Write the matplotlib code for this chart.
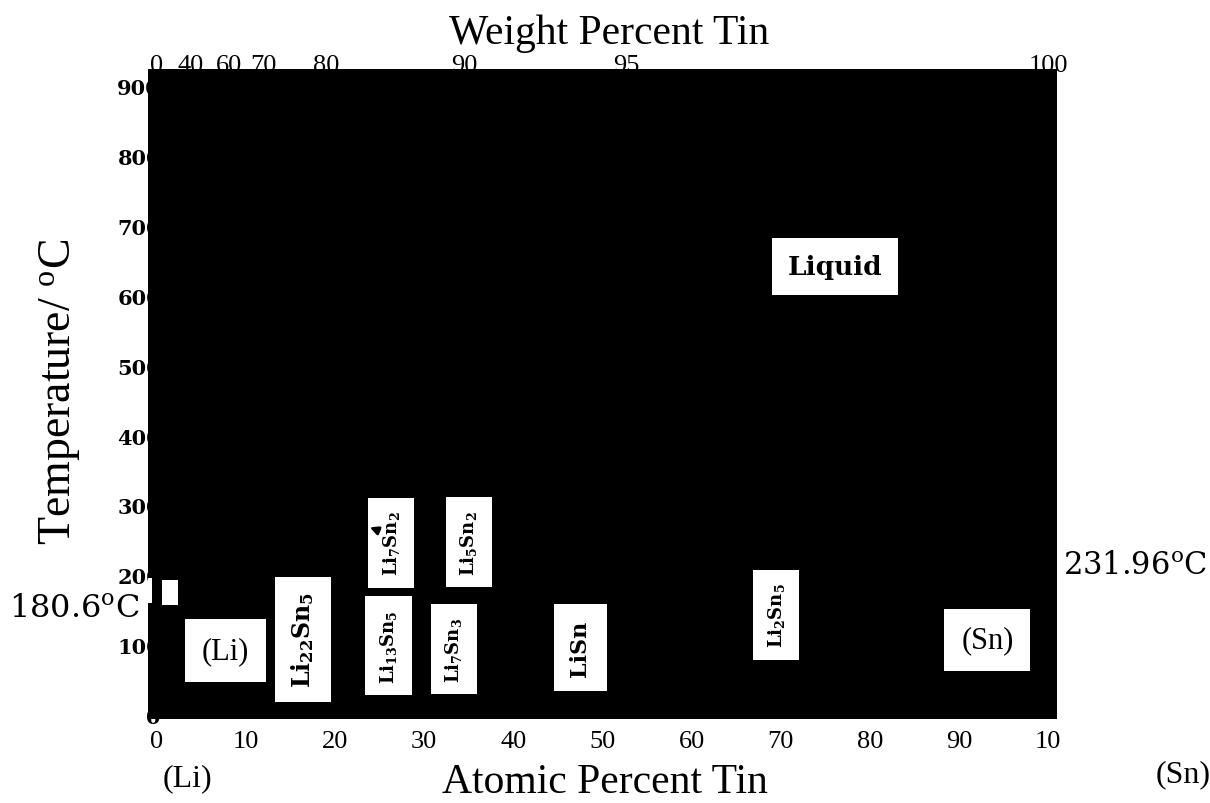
import numpy as np
import matplotlib
matplotlib.use("Agg")
import matplotlib.pyplot as plt
from matplotlib.patches import Rectangle

plt.rcParams["font.family"] = "Liberation Serif"
plt.rcParams["mathtext.default"] = "regular"

# temperature axis (deg C) and composition axes
temp_ticks = [0, 100, 200, 300, 400, 500, 600, 700, 800, 900]
at_ticks = [0, 10, 20, 30, 40, 50, 60, 70, 80, 90, 100]
at_labels = ["0", "10", "20", "30", "40", "50", "60", "70", "80", "90", "10"]
wt_ticks = [0, 40, 60, 70, 80, 90, 95, 100]

M_LI = 6.941
M_SN = 118.71

# phase field labels: text, at.% Sn, temperature, rotation, style
phases = [
    ("Liquid", 76.1, 642, 0, "big"),
    ("(Li)", 7.7, 92, 0, "paren"),
    ("Li$_{22}$Sn$_5$", 16.4, 108, 90, "big_v"),
    ("Li$_7$Sn$_2$", 26.3, 246, 90, "small_v"),
    ("Li$_{13}$Sn$_5$", 26.0, 99, 90, "small_v"),
    ("Li$_5$Sn$_2$", 35.0, 247, 90, "small_v"),
    ("Li$_7$Sn$_3$", 33.3, 94, 90, "small_v"),
    ("LiSn", 47.5, 96, 90, "mid_v"),
    ("Li$_2$Sn$_5$", 69.5, 143, 90, "small_v"),
    ("(Sn)", 93.2, 107, 0, "paren"),
]

li_melt = 180.6
sn_melt = 231.96


def wt_to_at(w):
    w = np.asarray(w, dtype=float)
    n_sn = w / M_SN
    n_li = (100.0 - w) / M_LI
    return 100.0 * n_sn / (n_sn + n_li)


fig = plt.figure(figsize=(12.1, 8.04), dpi=100)
ax = fig.add_axes([0.1223, 0.1045, 0.7512, 0.8085])
ax.set_facecolor("black")
ax.set_xlim(-1, 101)
ax.set_ylim(-6, 925)
for s in ax.spines.values():
    s.set_visible(False)

ax.set_yticks(temp_ticks)
ax.set_yticklabels([str(t) for t in temp_ticks],
                   family="DejaVu Serif", weight="bold", fontsize=15)
ax.tick_params(axis="y", length=0, pad=-9.3)

ax.set_xticks(at_ticks)
ax.set_xticklabels(at_labels, fontsize=19)
ax.tick_params(axis="x", length=0, pad=8)

top = ax.twiny()
top.set_xlim(ax.get_xlim())
top.set_xticks(wt_to_at(wt_ticks))
top.set_xticklabels([str(w) for w in wt_ticks], fontsize=19)
top.tick_params(axis="x", length=0, pad=-5)
for s in top.spines.values():
    s.set_visible(False)

# black field drawn over the inner ends of the tick labels
top.add_patch(Rectangle((0, 0), 1, 1, transform=top.transAxes,
                        facecolor="black", edgecolor="none",
                        zorder=2, clip_on=False))

styles = {
    "big": dict(family="DejaVu Serif", weight="bold", fontsize=19, pad=0.6),
    "paren": dict(family="Liberation Serif", weight="normal", fontsize=22, pad=0.55),
    "big_v": dict(family="DejaVu Serif", weight="bold", fontsize=17, pad=0.62),
    "mid_v": dict(family="DejaVu Serif", weight="bold", fontsize=16, pad=0.7),
    "small_v": dict(family="DejaVu Serif", weight="bold", fontsize=13, pad=0.7),
}
for text, x, t, rot, key in phases:
    st = styles[key]
    top.text(x, t, text, transform=ax.transData, rotation=rot,
             ha="center", va="center", family=st["family"],
             weight=st["weight"], fontsize=st["fontsize"], zorder=5,
             bbox=dict(boxstyle="square,pad=%g" % st["pad"],
                       facecolor="white", edgecolor="none"))

# small open boxes near the Li melting point
top.add_patch(Rectangle((0.6, 157), 1.8, 36, transform=ax.transData,
                        facecolor="white", edgecolor="none", zorder=5))
top.add_patch(Rectangle((-1.0, 160), 0.45, 36, transform=ax.transData,
                        facecolor="white", edgecolor="none", zorder=5))
top.annotate("", xy=(23.6, 270), xytext=(25.2, 262),
             xycoords=ax.transData, textcoords=ax.transData,
             arrowprops=dict(arrowstyle="-|>", color="black", lw=2,
                             mutation_scale=12), zorder=6)

ax.annotate("%.1f$^{o}$C" % li_melt, xy=(-1, li_melt - 27),
            xytext=(-8, 0), textcoords="offset pixels",
            ha="right", va="center", fontsize=23, family="DejaVu Serif",
            annotation_clip=False)
ax.annotate("%.2f$^{o}$C" % sn_melt, xy=(101, sn_melt - 17),
            xytext=(6, 0), textcoords="offset pixels",
            ha="left", va="center", fontsize=22, family="DejaVu Serif",
            annotation_clip=False)

fig.text(0.503, 0.958, "Weight Percent Tin", ha="center", va="center",
         fontsize=30)
fig.text(0.500, 0.027, "Atomic Percent Tin", ha="center", va="center",
         fontsize=30)
fig.text(0.155, 0.032, "(Li)", ha="center", va="center", fontsize=23)
fig.text(0.978, 0.036, "(Sn)", ha="center", va="center", fontsize=23)
fig.text(0.049, 0.512, "Temperature/ $^{o}$C", ha="center", va="center",
         rotation=90, fontsize=33)

fig.savefig("out.png", dpi=100)
